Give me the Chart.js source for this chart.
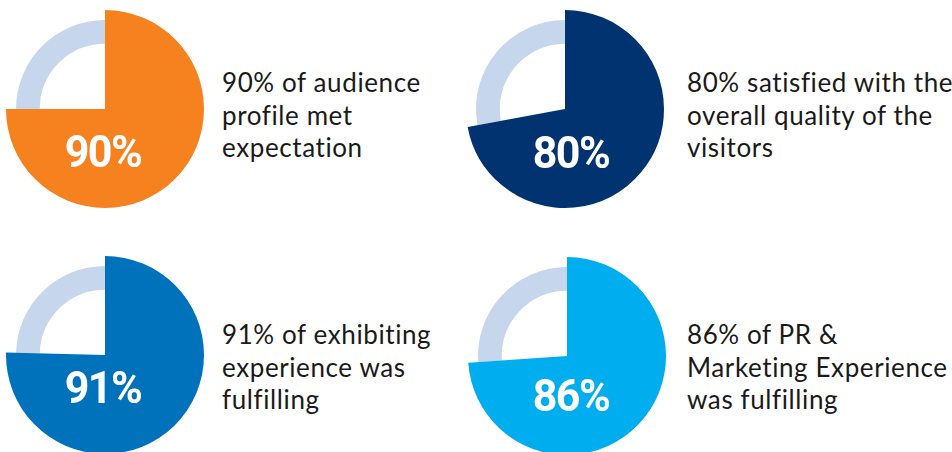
<!DOCTYPE html>
<html>
<head>
<meta charset="utf-8">
<script src="https://cdn.jsdelivr.net/npm/chart.js@4.4.0/dist/chart.umd.min.js"></script>
<style>
  html, body { margin: 0; padding: 0; background: #ffffff; }
  body { width: 952px; height: 452px; overflow: hidden; position: relative; }
  canvas { position: absolute; }
  .num { position: absolute; width: 140px; text-align: center; color: #ffffff;
         font-family: Roboto, "Liberation Sans", sans-serif; font-weight: 700;
         font-size: 43px; line-height: 43px; letter-spacing: -1.5px; white-space: nowrap;
         transform: scaleY(1.05); transform-origin: 50% 80%; }
  .desc { position: absolute; font-family: Lato, "Noto Sans", sans-serif; font-size: 26px;
          line-height: 32.5px; letter-spacing: 0.6px; color: #1a1a1a; white-space: nowrap; }
</style>
</head>
<body>
<script>
// ---- data ----
const statLabels   = ['90%', '80%', '91%', '86%'];
const statValues   = [90, 80, 91, 86];
// share of the circle actually painted by the filled sector in the picture
const drawnShare   = [75, 72.1, 75.4, 73.9];
const descriptions = [
  ['90% of audience', 'profile met', 'expectation'],
  ['80% satisfied with the', 'overall quality of the', 'visitors'],
  ['91% of exhibiting', 'experience was', 'fulfilling'],
  ['86% of PR &', 'Marketing Experience', 'was fulfilling']
];

// ---- styles / layout ----
const sectorColors = ['#f5821f', '#00336f', '#0071bb', '#00adee'];
const ringColor = '#c6d6ec';
const centers = [[105, 109], [565, 109], [105, 355], [567, 356]];
const numOffsets = [[-2, 58], [6, 59], [-2, 48], [4, 55]]; // baseline offsets from centre
const descPos = [[222, 92], [687, 92], [222, 344], [687, 344]]; // first-line baseline
const SIZE = 210;

function makeCanvas(cx, cy) {
  const c = document.createElement('canvas');
  c.width = SIZE; c.height = SIZE;
  c.style.width = SIZE + 'px'; c.style.height = SIZE + 'px';
  c.style.left = (cx - SIZE / 2) + 'px';
  c.style.top = (cy - SIZE / 2) + 'px';
  document.body.appendChild(c);
  return c;
}

const common = {
  responsive: false,
  animation: false,
  events: [],
  layout: { padding: 0 },
  plugins: { legend: { display: false }, tooltip: { enabled: false } }
};

statLabels.forEach((lab, i) => {
  const [cx, cy] = centers[i];
  const share = drawnShare[i];

  // thin ring for the remainder
  new Chart(makeCanvas(cx, cy), {
    type: 'doughnut',
    data: {
      labels: ['filled', 'rest'],
      datasets: [{
        data: [share, 100 - share],
        backgroundColor: ['rgba(0,0,0,0)', ringColor],
        borderWidth: 0
      }]
    },
    options: Object.assign({}, common, { radius: 89, cutout: 77 })
  });

  // big filled sector
  new Chart(makeCanvas(cx, cy), {
    type: 'pie',
    data: {
      labels: ['filled', 'rest'],
      datasets: [{
        data: [share, 100 - share],
        backgroundColor: [sectorColors[i], 'rgba(0,0,0,0)'],
        borderWidth: 0
      }]
    },
    options: Object.assign({}, common, { radius: 99 })
  });

  // big number
  const n = document.createElement('div');
  n.className = 'num';
  n.textContent = statValues[i] + '%';
  n.style.left = (cx + numOffsets[i][0] - 70) + 'px';
  n.style.top = (cy + numOffsets[i][1] - 36) + 'px';
  document.body.appendChild(n);

  // description
  const d = document.createElement('div');
  d.className = 'desc';
  d.innerHTML = descriptions[i].join('<br>');
  d.style.left = descPos[i][0] + 'px';
  d.style.top = (descPos[i][1] - 26) + 'px';
  document.body.appendChild(d);
});
</script>
</body>
</html>
